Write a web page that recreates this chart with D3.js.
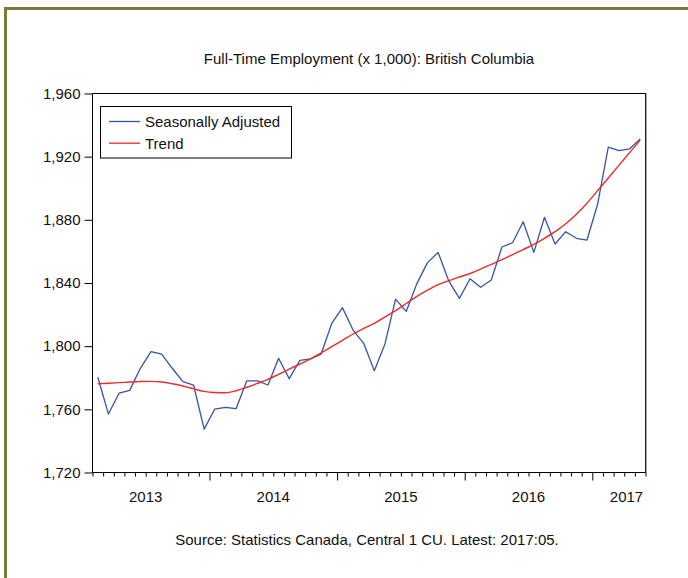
<!DOCTYPE html>
<html>
<head>
<meta charset="utf-8">
<script src="https://cdn.jsdelivr.net/npm/d3@7"></script>
<style>
  body { margin: 0; background: #fff; }
  svg text { font-family: "Liberation Sans", Arial, sans-serif; fill: #111; }
</style>
</head>
<body>
<div id="chart"></div>
<script>
// ========== DATA ==========
const title = 'Full-Time Employment (x 1,000): British Columbia';
const source = 'Source: Statistics Canada, Central 1 CU. Latest: 2017:05.';
const firstMonth = 1;   // Feb 2013, counted in months from Jan 2013
const yearLabels = [2013, 2014, 2015, 2016, 2017];
const yTicks = [1720, 1760, 1800, 1840, 1880, 1920, 1960];
const seriesNames = ['Seasonally Adjusted', 'Trend'];

const seasAdj = [
    1780.3, 1757.0, 1770.2, 1772.0, 1786.0, 1796.5, 1795.0, 1786.0, 1777.5, 1775.4, 1747.5,
    1760.2, 1761.3, 1760.4, 1778.0, 1778.0, 1775.4, 1792.3, 1779.4, 1791.0, 1791.9, 1795.0, 1814.5,
    1824.4, 1810.2, 1801.8, 1784.5, 1801.4, 1829.8, 1822.0, 1839.6, 1852.9, 1859.4, 1841.3, 1830.3,
    1842.7, 1837.3, 1841.9, 1862.8, 1865.5, 1878.8, 1859.4, 1881.6, 1864.7, 1872.5, 1868.3, 1867.2,
    1890.0, 1926.0, 1923.8, 1924.9, 1931.2
];
const trend = [
    1776.2, 1776.5, 1776.9, 1777.3, 1777.6, 1777.7, 1777.3, 1776.2, 1774.8, 1773.0, 1771.4,
    1770.7, 1770.5, 1771.8, 1774.0, 1776.4, 1779.0, 1782.2, 1785.4, 1788.7, 1792.0, 1795.8, 1799.7,
    1803.7, 1807.7, 1811.2, 1814.5, 1818.5, 1822.5, 1827.0, 1831.5, 1835.5, 1839.0, 1841.5, 1843.8,
    1846.0, 1848.8, 1851.8, 1854.8, 1858.0, 1861.2, 1864.5, 1868.3, 1872.5, 1877.5, 1883.5, 1890.5,
    1898.5, 1906.5, 1914.5, 1922.5, 1930.5
];

// ========== CHART ==========
const width = 688, height = 578;
const plot = { left: 92.5, top: 93.5, right: 645.5, bottom: 472.5 };
const blue = '#3653aa', red = '#ee2a2a';

const svg = d3.select('#chart').append('svg')
    .attr('width', width)
    .attr('height', height);

// outer olive frame (runs off the picture on right / bottom)
svg.append('rect')
    .attr('x', 5.5).attr('y', 8.5)
    .attr('width', 720).attr('height', 620)
    .attr('fill', 'none')
    .attr('stroke', '#7b7a3c')
    .attr('stroke-width', 3);

const nObs = seasAdj.length;
const x = d3.scaleLinear()
    .domain([firstMonth, firstMonth + nObs])
    .range([plot.left, plot.right]);
const y = d3.scaleLinear()
    .domain([1720, 1960])
    .range([plot.bottom, plot.top]);

// month index of each observation, placed at mid-month
const obs = seasAdj.map((v, i) => firstMonth + i + 0.5);

// title
svg.append('text')
    .attr('x', 369).attr('y', 63.5)
    .attr('text-anchor', 'middle')
    .attr('font-size', '15px')
    .text(title);

// y axis
const yAxis = svg.append('g')
    .attr('transform', `translate(${plot.left},0)`)
    .call(d3.axisLeft(y).tickValues(yTicks).tickFormat(d3.format(',')).tickSize(8).tickPadding(4));
yAxis.select('.domain').remove();
yAxis.selectAll('text').attr('font-size', '15px').attr('font-family', null);
yAxis.selectAll('line').attr('stroke', '#000');

// x axis, a tick each month, longer ticks at the year breaks
const monthTicks = d3.range(firstMonth, firstMonth + nObs + 1);
const xAxis = svg.append('g')
    .attr('transform', `translate(0,${plot.bottom})`)
    .call(d3.axisBottom(x).tickValues(monthTicks).tickFormat('').tickSize(4));
xAxis.select('.domain').remove();
xAxis.selectAll('.tick line')
    .attr('stroke', '#000')
    .attr('y2', d => d % 12 === 0 ? 8 : 4);

// year labels centred on the year, kept inside the plot at the right end
svg.append('g').selectAll('text')
    .data(yearLabels)
    .enter().append('text')
    .attr('x', d => {
        const mid = x((d - 2013) * 12 + 6);
        return Math.min(mid, plot.right - 19);
    })
    .attr('y', 502)
    .attr('text-anchor', 'middle')
    .attr('font-size', '15px')
    .text(d => d);

// lines
const line = vals => d3.line()
    .x((d, i) => x(obs[i]))
    .y(d => y(d))(vals);

svg.append('path')
    .attr('d', line(seasAdj))
    .attr('fill', 'none')
    .attr('stroke', blue)
    .attr('stroke-width', 1.3)
    .attr('stroke-linejoin', 'round');

svg.append('path')
    .attr('d', d3.line().x((d, i) => x(obs[i])).y(d => y(d)).curve(d3.curveMonotoneX)(trend))
    .attr('fill', 'none')
    .attr('stroke', red)
    .attr('stroke-width', 1.4);

// plot frame
svg.append('rect')
    .attr('x', plot.left).attr('y', plot.top)
    .attr('width', plot.right - plot.left)
    .attr('height', plot.bottom - plot.top)
    .attr('fill', 'none')
    .attr('stroke', '#000')
    .attr('stroke-width', 1);
svg.append('line')
    .attr('x1', plot.right + 0.5).attr('x2', plot.right + 0.5)
    .attr('y1', plot.top).attr('y2', plot.bottom)
    .attr('stroke', '#444');

// legend
const legend = svg.append('g').attr('transform', 'translate(100.5,106.5)');
legend.append('rect')
    .attr('width', 191).attr('height', 51.5)
    .attr('fill', '#fff')
    .attr('stroke', '#000');
seriesNames.forEach((name, i) => {
    const ly = 15 + i * 21.7;
    legend.append('line')
        .attr('x1', 8.5).attr('x2', 39.5)
        .attr('y1', ly).attr('y2', ly)
        .attr('stroke', i === 0 ? blue : red)
        .attr('stroke-width', 1.3);
    legend.append('text')
        .attr('x', 44.5).attr('y', ly + 5.3)
        .attr('font-size', '15px')
        .text(name);
});

// source note
svg.append('text')
    .attr('x', 367).attr('y', 545)
    .attr('text-anchor', 'middle')
    .attr('font-size', '15px')
    .text(source);
</script>
</body>
</html>
